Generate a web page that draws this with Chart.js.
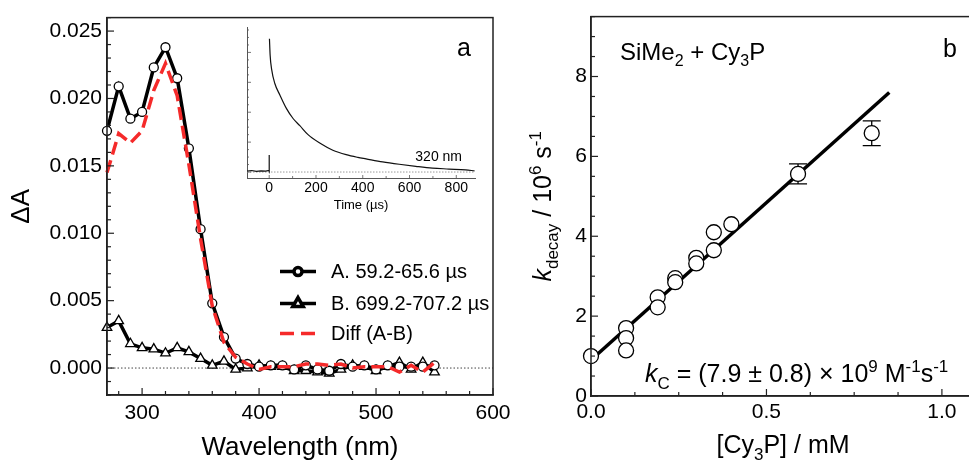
<!DOCTYPE html>
<html>
<head>
<meta charset="utf-8">
<script src="https://cdn.jsdelivr.net/npm/chart.js@4.4.0/dist/chart.umd.min.js"></script>
<style>
  body { margin: 0; background: #fff; width: 969px; height: 470px; overflow: hidden; position: relative; }
  canvas { position: absolute; }
</style>
</head>
<body>
<canvas id="chartA" width="530" height="470" style="left:0;top:0"></canvas>
<canvas id="inset" width="290" height="215" style="left:200px;top:10px"></canvas>
<canvas id="chartB" width="510" height="470" style="left:480px;top:0"></canvas>
<script>
// ---- panel a: transient spectra ----
const wavelengths = [270, 280, 290, 300, 310, 320, 330, 340, 350, 360, 370, 380, 390, 400, 410,
                     420, 430, 440, 450, 460, 470, 480, 490, 500, 510, 520, 530, 540, 550];
const spectrumA = [0.0176, 0.0209, 0.0185, 0.0190, 0.0223, 0.0238, 0.0215, 0.0163, 0.0103, 0.0048,
                   0.0023, 0.0007, 0.0003, 0.0001, 0.0002, 0.0002, -0.0001, 0.0002, -0.0001, -0.0002,
                   0.0003, 0.0001, 0.0002, -0.0001, 0.0002, 0.0001, 0.0001, 0.0001, 0.0002];
const spectrumB = [0.0030, 0.0035, 0.0018, 0.0015, 0.0014, 0.0011, 0.0015, 0.0012, 0.0007, 0.0002,
                   0.0005, -0.0001, 0.0000, 0.0002, 0.0001, 0.0001, -0.0002, -0.0002, -0.0003, -0.0004,
                   -0.0001, 0.0002, 0.0001, -0.0002, 0.0001, 0.0004, -0.0001, 0.0004, -0.0003];
const spectrumDiff = [0.0145, 0.0174, 0.0167, 0.0176, 0.0206, 0.0226, 0.0202, 0.0151, 0.0096, 0.0046,
                      0.0019, 0.0008, 0.0003, -0.0001, 0.0001, 0.0001, 0.0001, 0.0003, 0.0003, 0.0002,
                      0.0003, 0.0000, 0.0001, 0.0001, 0.0001, -0.0003, 0.0002, -0.0003, 0.0004];
const legendLabels = ['A. 59.2-65.6 \u00b5s', 'B. 699.2-707.2 \u00b5s', 'Diff (A-B)'];
const wlTicks = [300, 400, 500, 600];
const dATicks = [0, 0.005, 0.010, 0.015, 0.020, 0.025];

// ---- inset: kinetic trace at 320 nm ----
const preTime = [-95, -75, -55, -35, -15, -1, 0, 0];
const preSignal = [0.03, 0.05, 0.02, 0.04, 0.03, 0.05, 0.03, 0.57];
const decayTime = [1, 4, 10, 24, 46, 74, 102, 131, 166, 216, 272, 329, 379, 414, 485, 556, 627, 698, 769, 840, 878];
const decaySignal = [4.46, 3.90, 3.45, 2.96, 2.57, 2.12, 1.79, 1.55, 1.25, 0.97, 0.73, 0.58, 0.49, 0.44,
                     0.34, 0.26, 0.19, 0.13, 0.10, 0.07, 0.04];
const timeTicks = [0, 200, 400, 600, 800];

// ---- panel b: k_decay vs [Cy3P] ----
const concCy3P = [0, 0.10, 0.10, 0.10, 0.19, 0.19, 0.24, 0.24, 0.30, 0.30, 0.35, 0.35, 0.40, 0.59, 0.80];
const kDecay = [1.00, 1.70, 1.45, 1.14, 2.47, 2.22, 2.95, 2.85, 3.46, 3.32, 4.10, 3.65, 4.30, 5.56, 6.58];
const kError = [0, 0, 0, 0, 0, 0, 0, 0, 0, 0, 0, 0, 0, 0.25, 0.31];
const fitConc = [0, 0.85];
const fitK = [0.9, 7.6];
const concTicks = [0, 0.5, 1.0];
const kTicks = [0, 2, 4, 6, 8];

const FONT = '"Liberation Sans", Arial, Helvetica, sans-serif';
const pts = (xs, ys) => xs.map((x, i) => ({ x: x, y: ys[i] }));

// ticks pointing into the plot, plus optional frame
const innerTicks = {
  id: 'innerTicks',
  afterDraw(chart, args, opts) {
    const { ctx, chartArea: a } = chart;
    ctx.save();
    ctx.strokeStyle = opts.color;
    ctx.lineWidth = opts.lineWidth;
    for (const t of opts.axes) {
      const s = chart.scales[t.id];
      const n = Math.round((t.to - t.from) / t.minor);
      for (let i = 0; i <= n; i++) {
        const v = t.from + i * t.minor;
        const r = v / t.major;
        const len = Math.abs(r - Math.round(r)) < 1e-6 ? t.majorLen : t.minorLen;
        if (!len) continue;
        const p = s.getPixelForValue(v);
        ctx.beginPath();
        if (s.isHorizontal()) { ctx.moveTo(p, a.bottom); ctx.lineTo(p, a.bottom - len); }
        else { ctx.moveTo(a.left, p); ctx.lineTo(a.left + len, p); }
        ctx.stroke();
      }
    }
    if (opts.box) {
      ctx.lineWidth = opts.boxWidth;
      ctx.strokeRect(a.left, a.top, a.width, a.height);
    }
    ctx.restore();
  }
};

// text with italic / sub / sup parts
function richText(ctx, parts, x, y, size, align) {
  const fontFor = m => (m === 'i' ? 'italic ' : '') +
    (m === 'sub' || m === 'sup' ? Math.round(size * 0.68) : size) + 'px ' + FONT;
  let w = 0;
  for (const [t, m] of parts) { ctx.font = fontFor(m); w += ctx.measureText(t).width; }
  let cx = align === 'center' ? x - w / 2 : align === 'right' ? x - w : x;
  ctx.textAlign = 'left';
  ctx.textBaseline = 'alphabetic';
  for (const [t, m] of parts) {
    ctx.font = fontFor(m);
    const dy = m === 'sub' ? size * 0.27 : m === 'sup' ? -size * 0.42 : 0;
    ctx.fillText(t, cx, y + dy);
    cx += ctx.measureText(t).width;
  }
}

const legendA = {
  id: 'legendA',
  afterDraw(chart) {
    const { ctx, chartArea: a } = chart;
    const x0 = a.left + 173, x1 = a.left + 209, tx = a.left + 224;
    const rows = [a.top + 254, a.top + 286, a.top + 316];
    ctx.save();
    ctx.lineWidth = 3.5;
    ctx.strokeStyle = '#000';
    ctx.beginPath(); ctx.moveTo(x0, rows[0]); ctx.lineTo(x1, rows[0]); ctx.stroke();
    ctx.beginPath(); ctx.moveTo(x0, rows[1]); ctx.lineTo(x1, rows[1]); ctx.stroke();
    ctx.strokeStyle = '#f52a2a';
    ctx.setLineDash([14, 7]);
    ctx.beginPath(); ctx.moveTo(x0, rows[2]); ctx.lineTo(x1 + 1, rows[2]); ctx.stroke();
    ctx.setLineDash([]);
    ctx.fillStyle = '#fff';
    ctx.strokeStyle = '#000';
    Chart.helpers.drawPoint(ctx, { pointStyle: 'circle', radius: 4, rotation: 0, borderWidth: 1.3 }, (x0 + x1) / 2, rows[0]);
    Chart.helpers.drawPoint(ctx, { pointStyle: 'triangle', radius: 6, rotation: 0, borderWidth: 1.3 }, (x0 + x1) / 2, rows[1]);
    ctx.fillStyle = '#000';
    ctx.font = '20px ' + FONT;
    ctx.textAlign = 'left';
    ctx.textBaseline = 'middle';
    legendLabels.forEach((l, i) => ctx.fillText(l, tx, rows[i] + 1));
    ctx.font = '25px ' + FONT;
    ctx.textAlign = 'center';
    ctx.textBaseline = 'alphabetic';
    ctx.fillText('a', a.right - 29, a.top + 38);
    ctx.restore();
  }
};

new Chart(document.getElementById('chartA'), {
  type: 'line',
  data: {
    datasets: [
      { label: 'Diff (A-B)', data: pts(wavelengths, spectrumDiff), borderColor: '#f52a2a', borderWidth: 3.5,
        borderDash: [13, 6], pointRadius: 0, clip: false },
      { label: 'A', data: pts(wavelengths, spectrumA), borderColor: '#000', borderWidth: 3.5,
        pointStyle: 'circle', pointRadius: 4.5, pointBackgroundColor: '#fff', pointBorderColor: '#000',
        pointBorderWidth: 1.3, clip: false },
      { label: 'B', data: pts(wavelengths, spectrumB), borderColor: '#000', borderWidth: 3.5,
        pointStyle: 'triangle', pointRadius: 5.5, pointBackgroundColor: '#fff', pointBorderColor: '#000',
        pointBorderWidth: 1.3, clip: false },
      { label: 'zero', data: [{ x: 270, y: 0 }, { x: 600, y: 0 }], borderColor: '#444', borderWidth: 1,
        borderDash: [1.5, 2], pointRadius: 0 }
    ]
  },
  options: {
    responsive: false,
    animation: false,
    layout: { padding: { top: 12, right: 37, left: 0, bottom: 0 } },
    scales: {
      x: {
        type: 'linear', min: 270, max: 600,
        grid: { display: false, drawTicks: false },
        border: { color: '#222', width: 1.5 },
        afterBuildTicks: s => { s.ticks = wlTicks.map(v => ({ value: v })); },
        afterFit: s => { s.height = 75; },
        ticks: { color: '#000', font: { family: FONT, size: 21 }, padding: 6, maxRotation: 0 },
        title: { display: true, text: 'Wavelength (nm)', color: '#000', font: { family: FONT, size: 26 },
                 padding: { top: 0, bottom: 7 } }
      },
      y: {
        type: 'linear', min: -0.002, max: 0.026,
        grid: { display: false, drawTicks: false },
        border: { color: '#222', width: 1.5 },
        afterBuildTicks: s => { s.ticks = dATicks.map(v => ({ value: v })); },
        afterFit: s => { s.width = 107; },
        ticks: { color: '#000', font: { family: FONT, size: 21 }, padding: 5, callback: v => v.toFixed(3) },
        title: { display: true, text: '\u0394A', color: '#000', font: { family: FONT, size: 26 },
                 padding: { top: 6, bottom: 0 } }
      }
    },
    plugins: {
      legend: { display: false },
      tooltip: { enabled: false },
      innerTicks: {
        color: '#222', lineWidth: 1.2, box: true, boxWidth: 1.5,
        axes: [
          { id: 'x', from: 280, to: 600, minor: 20, major: 100, majorLen: 7, minorLen: 4 },
          { id: 'y', from: -0.002, to: 0.026, minor: 0.001, major: 0.005, majorLen: 7, minorLen: 4 }
        ]
      }
    }
  },
  plugins: [innerTicks, legendA]
});

const insetText = {
  id: 'insetText',
  afterDraw(chart) {
    const { ctx, chartArea: a } = chart;
    ctx.save();
    ctx.fillStyle = '#000';
    ctx.font = '14px ' + FONT;
    ctx.textAlign = 'right';
    ctx.textBaseline = 'alphabetic';
    ctx.fillText('320 nm', a.right - 13, a.bottom - 17);
    ctx.restore();
  }
};

new Chart(document.getElementById('inset'), {
  type: 'line',
  data: {
    datasets: [
      { label: 'pre', data: pts(preTime, preSignal), borderColor: '#111', borderWidth: 1.2, pointRadius: 0 },
      { label: 'decay', data: pts(decayTime, decaySignal), borderColor: '#111', borderWidth: 1.2,
        pointRadius: 0, cubicInterpolationMode: 'monotone' },
      { label: 'base', data: [{ x: -95, y: 0 }, { x: 880, y: 0 }], borderColor: '#999', borderWidth: 1,
        borderDash: [1.5, 1.5], pointRadius: 0 }
    ]
  },
  options: {
    responsive: false,
    animation: false,
    layout: { padding: { top: 17, right: 15, left: 0, bottom: 0 } },
    scales: {
      x: {
        type: 'linear', min: -95, max: 880,
        grid: { display: false, drawTicks: false },
        border: { color: '#555', width: 1 },
        afterBuildTicks: s => { s.ticks = timeTicks.map(v => ({ value: v })); },
        afterFit: s => { s.height = 47; },
        ticks: { color: '#000', font: { family: FONT, size: 14 }, padding: 2, maxRotation: 0 },
        title: { display: true, text: 'Time (\u00b5s)', color: '#000', font: { family: FONT, size: 13 },
                 padding: { top: 0, bottom: 12 } }
      },
      y: {
        type: 'linear', min: -0.2, max: 4.85,
        grid: { display: false, drawTicks: false },
        border: { color: '#555', width: 1 },
        afterFit: s => { s.width = 47; },
        ticks: { display: false }
      }
    },
    plugins: {
      legend: { display: false },
      tooltip: { enabled: false },
      innerTicks: {
        color: '#555', lineWidth: 0.8, box: false,
        axes: [
          { id: 'x', from: 0, to: 800, minor: 100, major: 200, majorLen: 3, minorLen: 2 },
          { id: 'y', from: 0, to: 4.75, minor: 0.25, major: 1, majorLen: 4, minorLen: 2 }
        ]
      }
    }
  },
  plugins: [innerTicks, insetText]
});

// error bars under the circles
const errorBars = {
  id: 'errorBars',
  beforeDatasetsDraw(chart) {
    const { ctx, scales: { x, y } } = chart;
    ctx.save();
    ctx.strokeStyle = '#000';
    ctx.lineWidth = 1.3;
    kError.forEach((e, i) => {
      if (!e) return;
      const px = x.getPixelForValue(concCy3P[i]);
      const top = y.getPixelForValue(kDecay[i] + e);
      const bot = y.getPixelForValue(kDecay[i] - e);
      ctx.beginPath();
      ctx.moveTo(px, top); ctx.lineTo(px, bot);
      ctx.moveTo(px - 9, top); ctx.lineTo(px + 9, top);
      ctx.moveTo(px - 9, bot); ctx.lineTo(px + 9, bot);
      ctx.stroke();
    });
    ctx.restore();
  }
};

const textB = {
  id: 'textB',
  afterDraw(chart) {
    const { ctx, chartArea: a } = chart;
    ctx.save();
    ctx.fillStyle = '#000';
    richText(ctx, [['SiMe', ''], ['2', 'sub'], [' + Cy', ''], ['3', 'sub'], ['P', '']], a.left + 29, a.top + 43, 24, 'left');
    richText(ctx, [['b', '']], a.left + 359, a.top + 40, 25, 'center');
    richText(ctx, [['k', 'i'], ['C', 'sub'], [' = (7.9 \u00b1 0.8) \u00d7 10', ''], ['9', 'sup'],
                   [' M', ''], ['-1', 'sup'], ['s', ''], ['-1', 'sup']], a.left + 54, a.bottom - 14, 25, 'left');
    richText(ctx, [['[Cy', ''], ['3', 'sub'], ['P] / mM', '']], a.left + 192, a.bottom + 57, 25, 'center');
    ctx.translate(a.left - 40, (a.top + a.bottom) / 2);
    ctx.rotate(-Math.PI / 2);
    richText(ctx, [['k', 'i'], ['decay', 'sub'], [' / 10', ''], ['6', 'sup'], [' s', ''], ['-1', 'sup']], 0, 0, 25, 'center');
    ctx.restore();
  }
};

new Chart(document.getElementById('chartB'), {
  type: 'scatter',
  data: {
    datasets: [
      { label: 'kdecay', data: pts(concCy3P, kDecay), pointStyle: 'circle', pointRadius: 7.5,
        pointBackgroundColor: '#fff', pointBorderColor: '#000', pointBorderWidth: 1.3, clip: false },
      { label: 'fit', data: pts(fitConc, fitK), showLine: true, borderColor: '#000', borderWidth: 3.5,
        pointRadius: 0, clip: false }
    ]
  },
  options: {
    responsive: false,
    animation: false,
    layout: { padding: { top: 12, right: 13, left: 0, bottom: 0 } },
    scales: {
      x: {
        type: 'linear', min: 0, max: 1.1,
        grid: { display: false, drawTicks: false },
        border: { color: '#222', width: 1.5 },
        afterBuildTicks: s => { s.ticks = concTicks.map(v => ({ value: v })); },
        afterFit: s => { s.height = 74; },
        ticks: { color: '#000', font: { family: FONT, size: 21 }, padding: 4, maxRotation: 0,
                 callback: v => v.toFixed(1) }
      },
      y: {
        type: 'linear', min: 0, max: 9.5,
        grid: { display: false, drawTicks: false },
        border: { color: '#222', width: 1.5 },
        afterBuildTicks: s => { s.ticks = kTicks.map(v => ({ value: v })); },
        afterFit: s => { s.width = 111; },
        ticks: { color: '#000', font: { family: FONT, size: 21 }, padding: 4 }
      }
    },
    plugins: {
      legend: { display: false },
      tooltip: { enabled: false },
      innerTicks: {
        color: '#222', lineWidth: 1.2, box: true, boxWidth: 1.5,
        axes: [
          { id: 'x', from: 0, to: 1.1, minor: 0.125, major: 0.5, majorLen: 7, minorLen: 4 },
          { id: 'y', from: 0, to: 9.5, minor: 0.5, major: 2, majorLen: 7, minorLen: 4 }
        ]
      }
    }
  },
  plugins: [innerTicks, errorBars, textB]
});
</script>
</body>
</html>
